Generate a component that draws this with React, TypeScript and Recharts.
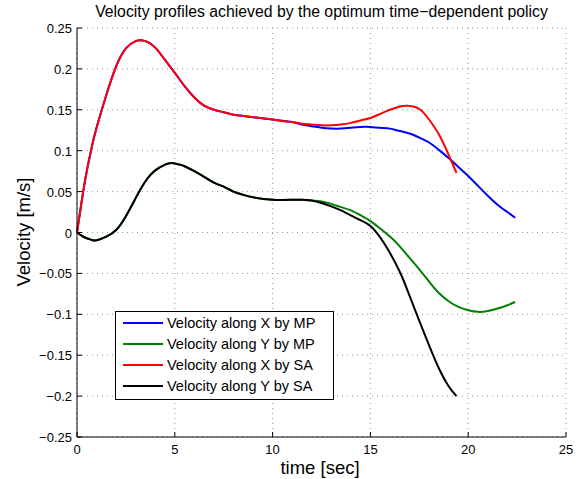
import { LineChart, Line, XAxis, YAxis, CartesianGrid, Legend } from 'recharts';

const FONT = '"Liberation Sans", Arial, Helvetica, sans-serif';

// time samples shared by both methods before the profiles split apart
const timeShared = [0, 0.25, 0.5, 0.75, 1, 1.5, 2, 2.5, 3, 3.3, 3.6, 4, 4.5, 4.85, 5.25, 5.5, 6, 6.5, 7, 7.5, 8, 8.5, 9, 10, 11];
const velXShared = [0, 0.04, 0.075, 0.104, 0.128, 0.168, 0.203, 0.225, 0.234, 0.235, 0.233, 0.226, 0.211, 0.2, 0.187, 0.179, 0.165, 0.155, 0.15, 0.147, 0.144, 0.1425, 0.141, 0.138, 0.135];
const velYShared = [0, -0.004, -0.007, -0.009, -0.0095, -0.005, 0.003, 0.02, 0.042, 0.055, 0.066, 0.076, 0.083, 0.085, 0.083, 0.081, 0.075, 0.068, 0.061, 0.056, 0.05, 0.046, 0.043, 0.04, 0.04];

// MP tail
const timeMP = [11.5, 12, 12.5, 13, 13.5, 14, 14.5, 15, 15.5, 16, 16.5, 17, 17.5, 18, 18.5, 19, 19.5, 20, 20.5, 21, 21.5, 22, 22.4];
const velXMP = [0.132, 0.13, 0.128, 0.127, 0.127, 0.128, 0.129, 0.129, 0.128, 0.127, 0.124, 0.121, 0.116, 0.11, 0.101, 0.091, 0.08, 0.069, 0.057, 0.045, 0.034, 0.025, 0.018];
const velYMP = [0.04, 0.039, 0.038, 0.035, 0.031, 0.027, 0.021, 0.014, 0.005, -0.005, -0.017, -0.031, -0.045, -0.06, -0.074, -0.084, -0.091, -0.095, -0.097, -0.096, -0.093, -0.089, -0.085];

// SA tail
const timeSA = [11.5, 12, 12.5, 13, 13.5, 14, 14.5, 15, 15.5, 16, 16.5, 16.9, 17.5, 18, 18.5, 19, 19.4];
const velXSA = [0.133, 0.132, 0.131, 0.131, 0.132, 0.134, 0.137, 0.14, 0.145, 0.15, 0.154, 0.155, 0.151, 0.138, 0.12, 0.095, 0.073];
const velYSA = [0.04, 0.039, 0.036, 0.032, 0.027, 0.021, 0.015, 0.008, -0.006, -0.025, -0.048, -0.071, -0.108, -0.138, -0.166, -0.188, -0.2];

const xTicks = [0, 5, 10, 15, 20, 25];
const yTicks = [-0.25, -0.2, -0.15, -0.1, -0.05, 0, 0.05, 0.1, 0.15, 0.2, 0.25];

const toPoints = (ts: number[], vs: number[]) => ts.map((t, i) => ({ t, v: vs[i] }));

const series = [
  { name: 'Velocity along X by MP', color: '#0000ff', data: [...toPoints(timeShared, velXShared), ...toPoints(timeMP, velXMP)] },
  { name: 'Velocity along Y by MP', color: '#008000', data: [...toPoints(timeShared, velYShared), ...toPoints(timeMP, velYMP)] },
  { name: 'Velocity along X by SA', color: '#ff0000', data: [...toPoints(timeShared, velXShared), ...toPoints(timeSA, velXSA)] },
  { name: 'Velocity along Y by SA', color: '#000000', data: [...toPoints(timeShared, velYShared), ...toPoints(timeSA, velYSA)] },
];

const fmt = (v: number) => String(v).replace('-', '\u2212');
const TICK_LEN = 5;
const labelStyle = { fontSize: 13, fontFamily: FONT, fill: '#000' };

const BottomTick = ({ x, y, payload }: any) => (
  <g>
    <line x1={x} x2={x} y1={y} y2={y - TICK_LEN} stroke="#000" />
    <text x={x} y={y + 17} textAnchor="middle" {...labelStyle}>{fmt(payload.value)}</text>
  </g>
);
const TopTick = ({ x, y }: any) => <line x1={x} x2={x} y1={y} y2={y + TICK_LEN} stroke="#000" />;
const LeftTick = ({ x, y, payload }: any) => (
  <g>
    <line x1={x} x2={x + TICK_LEN} y1={y} y2={y} stroke="#000" />
    <text x={x - 5} y={y + 5} textAnchor="end" {...labelStyle}>{fmt(payload.value)}</text>
  </g>
);
const RightTick = ({ x, y }: any) => <line x1={x} x2={x - TICK_LEN} y1={y} y2={y} stroke="#000" />;

const LegendBox = () => (
  <div style={{ border: '1px solid #000', background: '#fff', width: 217, height: 86, paddingTop: 1, boxSizing: 'content-box', fontFamily: FONT }}>
    {series.map((s) => (
      <div key={s.name} style={{ display: 'flex', alignItems: 'center', height: 20.8 }}>
        <span style={{ display: 'inline-block', width: 40, height: 2, background: s.color, marginLeft: 7, marginRight: 4 }} />
        <span style={{ fontSize: 14.5, color: '#000', whiteSpace: 'nowrap' }}>{s.name}</span>
      </div>
    ))}
  </div>
);

export default function App() {
  return (
    <div style={{ position: 'absolute', left: 0, top: 0, width: 580, height: 479, background: '#fff', fontFamily: FONT }}>
      <LineChart width={580} height={479} margin={{ top: 28, right: 14, bottom: 0, left: 0 }}>
        <CartesianGrid stroke="#999" strokeDasharray="1 4" />
        <XAxis
          dataKey="t"
          type="number"
          domain={[0, 25]}
          ticks={xTicks}
          interval={0}
          height={42}
          tickSize={0}
          tickMargin={0}
          axisLine={{ stroke: '#000' }}
          tickLine={false}
          tick={<BottomTick />}
        />
        <XAxis
          xAxisId="top"
          orientation="top"
          type="number"
          domain={[0, 25]}
          ticks={xTicks}
          interval={0}
          height={0}
          tickSize={0}
          tickMargin={0}
          axisLine={{ stroke: '#000' }}
          tickLine={false}
          tick={<TopTick />}
        />
        <YAxis
          type="number"
          domain={[-0.25, 0.25]}
          ticks={yTicks}
          interval={0}
          width={77}
          tickSize={0}
          tickMargin={0}
          axisLine={{ stroke: '#000' }}
          tickLine={false}
          tick={<LeftTick />}
        />
        <YAxis
          yAxisId="right"
          orientation="right"
          type="number"
          domain={[-0.25, 0.25]}
          ticks={yTicks}
          interval={0}
          width={0}
          tickSize={0}
          tickMargin={0}
          axisLine={{ stroke: '#000' }}
          tickLine={false}
          tick={<RightTick />}
        />
        {series.map((s) => (
          <Line
            key={s.name}
            data={s.data}
            dataKey="v"
            name={s.name}
            type="natural"
            stroke={s.color}
            strokeWidth={2}
            dot={false}
            activeDot={false}
            isAnimationActive={false}
          />
        ))}
        <Legend
          layout="vertical"
          align="center"
          verticalAlign="middle"
          content={<LegendBox />}
          wrapperStyle={{ left: 115, top: 311, width: 219, height: 88 }}
        />
      </LineChart>
      <svg width={580} height={479} style={{ position: 'absolute', left: 0, top: 0, pointerEvents: 'none' }}>
        <text x={321.5} y={17} textAnchor="middle" fontSize={15.8} fontFamily={FONT}>
          Velocity profiles achieved by the optimum time{'\u2212'}dependent policy
        </text>
        <text x={320} y={474} textAnchor="middle" fontSize={18.5} fontFamily={FONT}>
          time [sec]
        </text>
        <text x={30} y={232} textAnchor="middle" fontSize={18.5} fontFamily={FONT} transform="rotate(-90 30 232)">
          Velocity [m/s]
        </text>
      </svg>
    </div>
  );
}
